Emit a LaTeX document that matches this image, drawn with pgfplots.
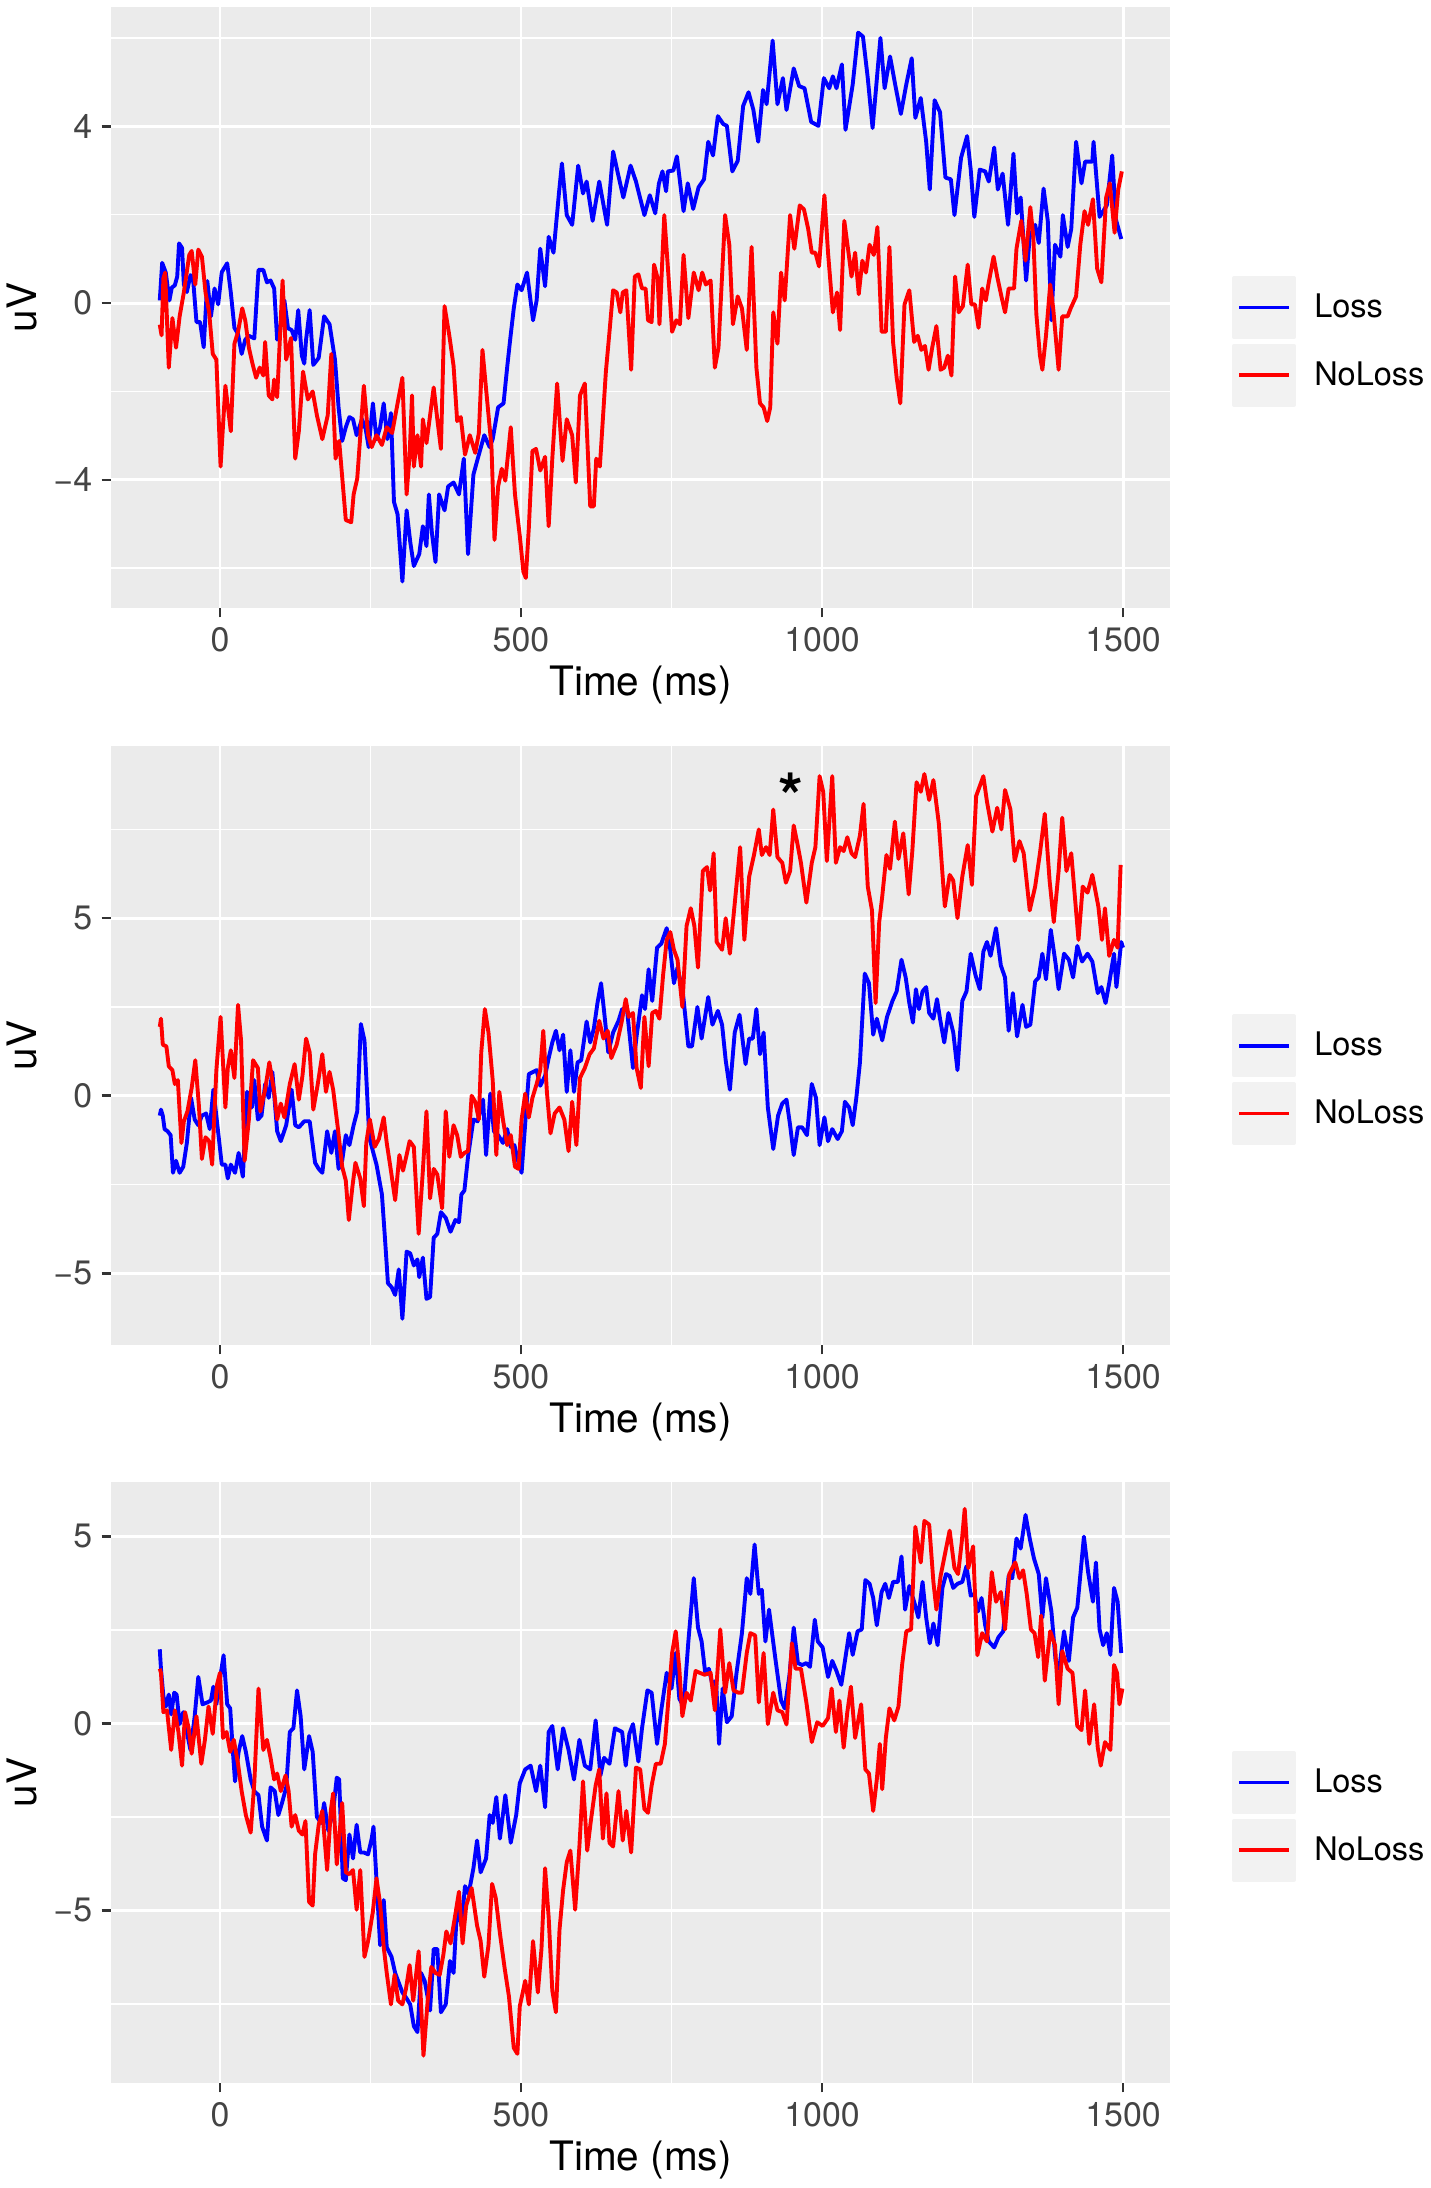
\documentclass[border=0pt]{standalone}
\usepackage{fontspec}
\setmainfont{TeX Gyre Heros}
\usepackage{pgfplots}
\pgfplotsset{compat=1.18}
\definecolor{panelbg}{HTML}{EBEBEB}
\definecolor{keybg}{HTML}{F2F2F2}
\definecolor{ticklab}{HTML}{444444}
\definecolor{tickcol}{HTML}{333333}
\definecolor{lossblue}{HTML}{0000FF}
\definecolor{nolossred}{HTML}{FF0000}
\pgfplotsset{
  ggline/.style={line width=1.4pt, line join=round},
  gg/.style={
    scale only axis, width=381.24pt,
    xmin=-181, xmax=1578,
    xtick={0,500,1000,1500}, xticklabels={0,500,1000,1500},
    minor xtick={250,750,1250},
    axis background/.style={fill=panelbg},
    axis line style={draw=none},
    grid=both,
    major grid style={white, line width=1.05pt},
    minor grid style={white, line width=0.55pt},
    tick align=outside, tick pos=left,
    major tick length=3.4pt, minor tick length=0pt,
    major tick style={tickcol, line width=0.9pt},
    ticklabel style={font=\fontsize{12.2}{12.2}\selectfont, text=ticklab},
    xticklabel style={anchor=center, inner sep=0pt, yshift=-7.9pt},
    yticklabel style={anchor=east, inner sep=0pt, xshift=-3.2pt},
    xlabel={Time (ms)}, ylabel={uV},
    every axis x label/.style={at={(axis description cs:0.5,-0.128)}, anchor=center,
      font=\fontsize{14.6}{14.6}\selectfont},
    every axis y label/.style={at={(axis description cs:-0.084,0.5)}, anchor=center, rotate=90,
      font=\fontsize{14.6}{14.6}\selectfont},
    legend style={at={(axis description cs:1.0586,0.552)}, anchor=north west,
      draw=none, fill=none, inner sep=0pt, outer sep=0pt, row sep=1.7pt,
      font=\fontsize{11.7}{11.7}\selectfont,
      nodes={inner sep=0pt, outer sep=0pt},
      /tikz/every odd column/.append style={column sep=6.6pt}},
    legend cell align=left,
    legend image code/.code={
      \fill[keybg] (0pt,-10.62pt) rectangle (21.6pt,10.62pt);
      \draw[##1, line width=1.3pt] (1.8pt,0pt) -- (19.8pt,0pt);
    },
  }
}
\begin{document}
\begin{tikzpicture}
\useasboundingbox (0,0) rectangle (514.8pt,787.68pt);
% ---------------- Panel 1 ----------------
\begin{axis}[gg, at={(39.96pt,568.8pt)}, anchor=south west, height=216.36pt,
  ymin=-6.90, ymax=6.70, ytick={-4,0,4}, yticklabels={−4,0,4}, minor ytick={-6,-2,2,6}]
\addplot[lossblue, ggline] coordinates {
(-100,0.06)(-96,0.91)(-90,0.69)(-84,0.06)(-80,0.35)(-75,0.4)(-71,0.6)(-68,1.35)(-63,1.25)(-60,0.42)
(-55,0.25)(-49,0.63)(-45,0.6)(-39,-0.43)(-33,-0.43)(-27,-1.0)(-21,0.5)(-15,-0.3)(-9,0.33)(-3,-0.03)
(3,0.7)(12,0.9)(18,0.24)(24,-0.56)(30,-0.7)(36,-1.15)(42,-0.83)(48,-0.74)(57,-0.8)(64,0.75)
(72,0.75)(78,0.47)(84,0.51)(90,0.33)(95,-0.83)(101,-0.48)(107,0.06)(113,-0.57)(119,-0.61)(125,-0.83)
(130,-0.16)(136,-1.19)(140,-1.37)(143,-0.83)(149,-0.16)(155,-1.4)(164,-1.24)(173,-0.3)(182,-0.48)(191,-1.28)
(197,-2.36)(203,-3.12)(209,-2.81)(215,-2.58)(221,-2.63)(227,-2.99)(236,-2.63)(242,-2.85)(247,-3.26)(254,-2.27)
(260,-3.08)(266,-2.81)(272,-2.27)(278,-3.08)(284,-2.49)(289,-4.5)(295,-4.78)(303,-6.3)(310,-4.69)(316,-5.4)
(322,-5.95)(331,-5.68)(337,-5.05)(343,-5.5)(347,-4.33)(352,-5.2)(358,-5.86)(364,-4.33)(373,-4.69)(379,-4.15)
(388,-4.06)(397,-4.33)(405,-3.52)(412,-5.68)(421,-3.88)(430,-3.43)(439,-2.99)(448,-3.26)(453,-3.08)(462,-2.36)
(471,-2.27)(477,-1.46)(482,-0.83)(488,-0.12)(494,0.42)(501,0.29)(510,0.69)(520,-0.39)(526,0.06)(532,1.23)
(540,0.38)(546,1.5)(554,1.14)(563,2.48)(568,3.16)(576,1.99)(585,1.77)(595,3.11)(603,2.48)(609,2.75)
(619,1.86)(630,2.75)(643,1.77)(653,3.43)(661,2.93)(670,2.39)(682,3.11)(691,2.75)(705,1.99)(714,2.44)
(723,2.03)(729,2.70)(735,2.98)(741,2.53)(744,2.98)(753,3.0)(759,3.32)(770,2.08)(777,2.71)(786,2.13)
(795,2.62)(804,2.80)(811,3.65)(819,3.34)(827,4.23)(836,4.05)(842,4.01)(851,2.98)(860,3.22)(869,4.46)
(878,4.77)(886,4.37)(894,3.65)(902,4.82)(908,4.5)(918,5.94)(926,4.50)(935,5.09)(941,4.37)(953,5.31)
(962,4.91)(971,4.86)(982,4.10)(994,4.01)(1003,5.09)(1012,4.86)(1018,5.13)(1024,4.86)(1033,5.40)(1039,3.92)
(1051,4.95)(1060,6.12)(1068,6.03)(1076,5.09)(1084,3.96)(1097,6.0)(1104,4.86)(1113,5.58)(1122,4.91)(1131,4.28)
(1140,4.95)(1149,5.54)(1155,4.19)(1164,4.64)(1173,3.65)(1179,2.57)(1187,4.59)(1196,4.32)(1205,2.84)(1214,2.80)
(1220,1.99)(1231,3.29)(1241,3.78)(1247,3.02)(1253,1.95)(1262,3.02)(1271,2.98)(1277,2.75)(1286,3.52)(1292,2.57)
(1300,2.93)(1309,1.77)(1318,3.38)(1324,2.03)(1330,2.39)(1339,0.51)(1345,1.5)(1354,1.77)(1360,1.36)(1368,2.59)
(1375,1.86)(1381,-0.39)(1387,1.32)(1396,1.05)(1400,1.99)(1408,1.27)(1414,1.68)(1422,3.65)(1431,2.71)(1437,3.2)
(1449,3.2)(1451,3.65)(1461,1.95)(1473,2.21)(1482,3.34)(1488,1.9)(1497,1.45)
};
\addlegendentry{Loss}
\addplot[nolossred, ggline] coordinates {
(-100,-0.49)(-97,-0.73)(-94,0.56)(-91,0.69)(-85,-1.46)(-79,-0.34)(-73,-1.01)(-67,-0.3)(-60,0.24)(-51,1.09)
(-47,1.18)(-41,0.42)(-36,1.21)(-30,1.05)(-24,0.24)(-18,-0.21)(-12,-1.15)(-6,-1.28)(1,-3.7)(9,-1.87)
(18,-2.90)(24,-0.92)(30,-0.65)(37,-0.12)(42,-0.39)(48,-1.01)(54,-1.37)(60,-1.69)(66,-1.46)(72,-1.64)
(75,-0.88)(81,-2.09)(87,-2.18)(90,-1.73)(95,-2.13)(104,0.51)(110,-1.28)(118,-0.79)(125,-3.52)(131,-2.90)
(138,-1.55)(146,-2.18)(154,-2.0)(161,-2.54)(170,-3.08)(179,-2.54)(185,-1.15)(192,-3.52)(198,-3.12)(209,-4.91)
(218,-4.96)(222,-4.33)(228,-3.97)(239,-1.87)(246,-2.99)(252,-3.26)(260,-2.99)(269,-3.21)(277,-2.81)(286,-2.94)
(295,-2.27)(303,-1.69)(310,-4.33)(315,-3.43)(319,-2.09)(322,-3.7)(328,-2.99)(334,-3.70)(337,-2.63)(343,-3.17)
(349,-2.54)(355,-1.91)(361,-2.63)(367,-3.30)(373,-0.07)(381,-0.74)(388,-1.42)(394,-2.67)(400,-2.58)(407,-3.43)
(415,-2.99)(424,-3.39)(430,-2.94)(436,-1.06)(443,-2.09)(451,-3.26)(456,-5.36)(462,-4.15)(468,-3.75)(474,-4.02)
(483,-2.81)(490,-4.33)(498,-5.27)(504,-6.08)(508,-6.22)(513,-5.09)(519,-3.35)(525,-3.30)(532,-3.79)(540,-3.48)
(546,-5.05)(552,-3.52)(560,-1.82)(569,-3.57)(576,-2.63)(585,-2.99)(591,-4.06)(598,-2.09)(606,-1.82)(615,-4.6)
(621,-4.6)(625,-3.52)(631,-3.70)(641,-1.55)(647,-0.65)(653,0.29)(659,0.24)(665,-0.21)(669,0.24)(675,0.29)
(683,-1.51)(689,0.6)(695,0.65)(701,0.33)(707,0.33)(711,-0.39)(717,-0.43)(721,0.87)(727,0.56)(730,-0.48)
(738,1.99)(745,0.6)(751,-0.65)(758,-0.39)(764,-0.48)(770,1.09)(778,-0.34)(787,0.69)(795,0.29)(801,0.69)
(807,0.42)(815,0.51)(822,-1.46)(828,-1.01)(839,1.99)(846,1.32)(852,-0.48)(860,0.15)(867,-0.12)(875,-1.06)
(883,1.27)(891,-1.46)(897,-2.27)(903,-2.36)(909,-2.67)(914,-2.36)(919,-0.21)(926,-0.92)(932,0.69)(938,0.06)
(947,1.99)(954,1.23)(963,2.21)(970,2.12)(977,1.68)(983,1.14)(989,1.14)(995,0.83)(1004,2.44)(1010,1.14)
(1018,-0.21)(1025,0.24)(1030,-0.61)(1037,1.86)(1044,1.14)(1049,0.6)(1055,1.14)(1061,0.2)(1067,0.96)(1073,0.69)
(1079,1.32)(1086,1.09)(1092,1.72)(1099,-0.65)(1106,-0.65)(1112,1.27)(1118,-0.88)(1124,-1.69)(1130,-2.27)(1137,-0.03)
(1145,0.29)(1153,-0.88)(1159,-0.74)(1165,-1.06)(1171,-0.97)(1177,-1.51)(1183,-1.01)(1190,-0.52)(1197,-1.51)(1203,-1.46)
(1209,-1.19)(1215,-1.64)(1221,0.6)(1227,-0.21)(1234,-0.07)(1242,0.87)(1248,-0.03)(1254,-0.03)(1260,-0.56)(1266,0.33)
(1272,0.06)(1277,0.47)(1285,1.05)(1291,0.6)(1298,0.15)(1304,-0.21)(1310,0.33)(1319,0.33)(1323,1.23)(1331,1.86)
(1338,0.96)(1346,2.17)(1351,1.5)(1356,-0.25)(1362,-1.19)(1366,-1.51)(1372,-0.74)(1379,0.42)(1384,-0.12)(1393,-1.51)
(1399,-0.3)(1408,-0.3)(1413,-0.12)(1422,0.15)(1429,1.32)(1436,2.08)(1442,1.77)(1450,2.35)(1457,0.78)(1464,0.47)
(1472,2.39)(1478,2.71)(1486,1.59)(1492,2.57)(1498,2.98)
};
\addlegendentry{NoLoss}
\end{axis}
% ---------------- Panel 2 ----------------
\begin{axis}[gg, at={(39.96pt,303.48pt)}, anchor=south west, height=215.64pt,
  ymin=-7.02, ymax=9.85, ytick={-5,0,5}, yticklabels={−5,0,5}, minor ytick={-2.5,2.5,7.5}]
\addplot[lossblue, ggline] coordinates {
(-100,-0.56)(-98,-0.39)(-95,-0.56)(-92,-0.94)(-87,-1.0)(-82,-1.11)(-78,-2.17)(-73,-1.83)(-67,-2.17)(-61,-2.0)
(-55,-1.33)(-48,-0.06)(-42,-0.67)(-36,-0.83)(-30,-0.56)(-23,-0.5)(-17,-0.94)(-11,0.17)(-5,-0.72)(3,-1.94)
(9,-1.94)(13,-2.33)(18,-1.94)(25,-2.17)(31,-1.61)(38,-2.28)(45,0.11)(53,-0.33)(57,0.44)(63,-0.67)
(69,-0.56)(75,0.33)(81,-0.06)(87,0.67)(95,-1.0)(101,-1.28)(110,-0.83)(119,0.17)(125,-0.83)(131,-0.89)
(140,-0.72)(149,-0.72)(158,-1.89)(164,-2.06)(170,-2.17)(178,-1.0)(185,-1.61)(191,-1.0)(197,-2.06)(203,-1.83)
(209,-1.11)(215,-1.39)(222,-0.83)(228,-0.44)(234,2.02)(240,1.56)(248,-1.17)(254,-1.56)(260,-1.94)(269,-2.78)
(274,-4.0)(279,-5.28)(285,-5.39)(291,-5.61)(297,-4.89)(303,-6.28)(310,-4.39)(316,-4.44)(322,-4.78)(328,-4.61)
(331,-5.11)(337,-4.56)(343,-5.72)(349,-5.67)(355,-4.0)(361,-3.89)(367,-3.28)(375,-3.44)(383,-3.83)(391,-3.5)
(397,-3.56)(401,-2.78)(406,-2.67)(412,-1.72)(421,-0.67)(428,-0.72)(437,-0.11)(442,-1.67)(449,0.06)(455,-1.0)
(462,-1.11)(470,-1.33)(477,-0.94)(483,-1.44)(489,-1.39)(495,-1.83)(501,-2.17)(507,-0.78)(513,0.61)(520,0.67)
(526,0.72)(532,0.28)(540,0.56)(546,1.06)(552,1.5)(558,1.83)(564,1.28)(570,1.72)(576,0.11)(582,1.28)
(588,0.11)(594,0.94)(600,1.0)(609,2.09)(615,1.5)(621,1.89)(627,2.61)(633,3.17)(639,2.22)(645,1.22)
(653,1.78)(662,2.11)(668,2.44)(676,2.44)(686,0.78)(692,1.67)(701,2.83)(706,2.44)(712,3.56)(718,2.67)
(726,4.17)(733,4.28)(742,4.72)(748,4.11)(754,3.17)(760,3.61)(769,2.89)(778,1.39)(784,1.39)(793,2.5)
(800,1.61)(811,2.78)(818,2.0)(827,2.39)(834,2.0)(840,1.0)(847,0.17)(855,1.78)(863,2.28)(873,0.89)
(879,1.61)(885,1.61)(891,2.44)(897,1.17)(903,1.78)(910,-0.33)(919,-1.5)(927,-0.56)(934,-0.22)(941,-0.11)
(947,-0.83)(953,-1.67)(960,-0.89)(967,-0.89)(975,-1.11)(983,0.33)(990,-0.06)(996,-1.39)(1004,-0.61)(1010,-1.28)
(1017,-0.94)(1026,-1.22)(1033,-1.0)(1038,-0.17)(1045,-0.33)(1051,-0.83)(1057,-0.06)(1063,0.94)(1071,3.44)(1078,3.17)
(1085,1.72)(1091,2.17)(1100,1.56)(1108,2.22)(1117,2.67)(1124,2.94)(1132,3.83)(1139,3.33)(1145,2.61)(1151,2.06)
(1156,3.0)(1161,2.44)(1167,2.94)(1173,3.06)(1178,2.33)(1185,2.17)(1191,2.72)(1196,2.17)(1203,1.5)(1210,2.33)
(1218,1.78)(1225,0.72)(1233,2.67)(1240,2.94)(1247,4.0)(1255,3.39)(1262,3.0)(1268,4.06)(1274,4.33)(1280,3.94)
(1289,4.72)(1297,3.67)(1304,3.33)(1310,1.83)(1317,2.89)(1324,1.67)(1333,2.56)(1339,1.94)(1346,2.0)(1354,3.22)
(1360,3.33)(1366,4.0)(1372,3.28)(1380,4.67)(1388,3.72)(1393,3.0)(1402,4.0)(1410,3.83)(1417,3.33)(1424,4.22)
(1432,3.78)(1441,4.0)(1449,3.78)(1458,2.89)(1464,3.06)(1471,2.61)(1477,3.17)(1485,4.0)(1489,3.06)(1497,4.33)
(1500,4.17)
};
\addlegendentry{Loss}
\addplot[nolossred, ggline] coordinates {
(-100,1.94)(-98,2.17)(-95,1.44)(-89,1.39)(-85,0.83)(-79,0.72)(-75,0.33)(-70,0.44)(-64,-1.33)(-60,-0.72)
(-54,-0.44)(-47,0.22)(-41,1.0)(-35,-0.28)(-30,-1.78)(-24,-1.17)(-18,-1.28)(-13,-1.94)(-6,0.72)(1,2.22)
(9,-0.33)(13,0.78)(18,1.28)(24,0.5)(30,2.56)(35,1.56)(41,-1.83)(48,-0.67)(55,1.0)(63,0.78)
(67,-0.44)(75,0.17)(82,0.94)(90,0.11)(95,-0.67)(101,-0.22)(107,-0.61)(116,0.33)(124,0.89)(131,-0.11)
(137,0.56)(143,1.61)(149,1.22)(155,-0.39)(162,0.28)(170,1.17)(176,0.11)(182,0.67)(188,0.17)(196,-0.94)
(203,-2.0)(209,-2.39)(214,-3.5)(220,-2.56)(225,-1.89)(233,-2.33)(239,-3.11)(243,-1.33)(249,-0.67)(257,-1.44)
(264,-1.22)(272,-0.61)(277,-1.33)(283,-2.0)(291,-2.94)(298,-1.67)(304,-2.11)(310,-1.67)(315,-1.28)(322,-1.44)
(330,-3.89)(337,-2.11)(343,-0.44)(349,-2.89)(355,-2.06)(361,-2.22)(369,-3.17)(375,-0.44)(381,-1.72)(388,-0.83)
(394,-1.11)(400,-1.72)(406,-1.61)(412,-1.56)(418,0.0)(424,-0.17)(430,-0.67)(434,1.22)(440,2.44)(446,1.78)
(453,0.44)(459,-1.67)(464,0.11)(470,-0.67)(477,-1.39)(483,-1.11)(490,-2.0)(496,-2.06)(501,-0.67)(507,0.06)
(513,-0.61)(519,-0.06)(526,0.33)(532,0.72)(537,1.83)(543,0.11)(549,-1.06)(556,-0.5)(564,-0.33)(572,-0.67)
(579,-1.56)(585,-0.17)(592,-1.39)(598,0.5)(606,0.78)(614,1.17)(621,1.33)(630,2.11)(637,1.61)(644,1.83)
(650,1.06)(659,1.44)(667,2.06)(674,2.72)(679,2.22)(686,2.33)(692,0.78)(699,0.22)(705,2.22)(712,0.83)
(718,2.33)(724,2.39)(730,2.17)(736,3.39)(742,4.39)(748,4.61)(754,4.11)(760,3.83)(768,2.5)(775,4.78)
(782,5.28)(788,4.78)(794,3.61)(802,6.33)(809,6.44)(814,5.78)(820,6.83)(825,4.33)(834,4.11)(840,5.0)
(847,4.0)(853,5.06)(864,7.0)(871,4.39)(879,6.17)(887,6.78)(895,7.5)(900,6.78)(907,7.0)(913,6.78)
(919,8.06)(926,6.72)(934,6.56)(940,6.0)(947,6.33)(953,7.61)(959,7.11)(965,6.56)(974,5.44)(983,6.56)
(989,7.0)(996,9.0)(1002,8.56)(1008,6.61)(1017,9.0)(1023,6.56)(1030,7.0)(1036,6.89)(1042,7.28)(1049,6.83)
(1055,6.72)(1063,7.33)(1069,8.22)(1076,5.89)(1083,5.22)(1089,2.61)(1095,4.89)(1100,5.61)(1107,6.78)(1113,6.39)
(1121,7.72)(1127,6.67)(1135,7.39)(1144,5.67)(1150,6.89)(1157,8.83)(1164,8.56)(1170,9.06)(1178,8.33)(1185,8.89)
(1194,7.67)(1204,5.33)(1212,6.22)(1218,6.06)(1225,5.0)(1233,6.17)(1242,7.06)(1249,5.94)(1256,8.44)(1268,9.0)
(1274,8.28)(1283,7.44)(1291,8.11)(1298,7.5)(1304,8.61)(1313,8.06)(1320,6.61)(1328,7.17)(1335,6.83)(1345,5.22)
(1354,5.89)(1362,6.83)(1370,7.94)(1378,6.06)(1385,4.89)(1393,6.33)(1399,7.83)(1406,6.33)(1414,6.83)(1426,4.39)
(1433,5.89)(1441,5.72)(1449,6.22)(1459,5.33)(1465,4.39)(1470,5.28)(1477,3.94)(1485,4.39)(1491,4.17)(1496,6.5)
};
\addlegendentry{NoLoss}
\node[anchor=base, inner sep=0pt, font=\bfseries\fontsize{23}{23}\selectfont] at (axis cs:949,7.77) {*};
\end{axis}
% ---------------- Panel 3 ----------------
\begin{axis}[gg, at={(39.96pt,37.8pt)}, anchor=south west, height=216.36pt,
  ymin=-9.61, ymax=6.45, ytick={-5,0,5}, yticklabels={−5,0,5}, minor ytick={-7.5,-2.5,2.5}]
\addplot[lossblue, ggline] coordinates {
(-100,1.98)(-98,1.46)(-94,0.72)(-90,0.45)(-85,0.77)(-81,0.24)(-76,0.82)(-72,0.77)(-67,-0.02)(-61,0.3)
(-55,-0.23)(-49,-0.71)(-42,0.19)(-36,1.24)(-29,0.51)(-21,0.56)(-15,0.61)(-11,0.98)(-6,0.51)(0,1.19)
(6,1.82)(12,0.51)(17,0.40)(21,-0.65)(25,-1.55)(31,-0.76)(37,-0.34)(43,-0.76)(51,-1.5)(57,-1.81)
(64,-1.92)(70,-2.76)(78,-3.13)(84,-1.71)(91,-1.81)(97,-2.45)(103,-2.13)(110,-1.71)(116,-0.23)(122,-0.13)
(128,0.88)(134,0.19)(140,-1.23)(148,-0.34)(154,-0.76)(161,-2.5)(168,-2.66)(173,-2.13)(180,-2.87)(188,-2.34)
(194,-1.45)(198,-1.5)(204,-4.14)(209,-4.19)(215,-2.97)(221,-3.61)(227,-2.71)(233,-3.45)(239,-3.45)(246,-3.5)
(252,-3.08)(255,-2.76)(260,-4.19)(266,-5.93)(272,-4.72)(277,-5.98)(285,-6.24)(291,-6.67)(297,-6.93)(303,-7.19)
(310,-7.35)(316,-7.51)(322,-8.09)(328,-8.25)(334,-6.67)(340,-6.88)(349,-7.67)(355,-6.03)(361,-6.03)(367,-7.72)
(375,-7.51)(382,-6.35)(388,-6.67)(394,-4.87)(401,-5.4)(407,-4.35)(413,-4.56)(421,-3.87)(427,-3.13)(433,-3.98)
(442,-3.61)(448,-2.45)(453,-2.66)(459,-1.97)(465,-3.08)(474,-1.92)(483,-3.19)(492,-2.45)(498,-1.6)(507,-1.23)
(516,-1.13)(525,-1.81)(532,-1.13)(540,-2.24)(546,-0.23)(552,-0.07)(561,-1.23)(570,-0.13)(579,-0.71)(588,-1.5)
(597,-0.44)(606,-1.13)(615,-1.23)(624,0.08)(632,-1.39)(638,-0.92)(647,-1.08)(656,-0.13)(668,-0.23)(674,-1.13)
(680,-0.28)(686,-0.02)(695,-1.02)(701,-0.13)(710,0.88)(717,0.82)(726,-0.55)(733,0.35)(742,1.35)(750,0.93)
(757,1.88)(763,0.66)(770,0.45)(778,2.19)(787,3.88)(794,2.56)(800,2.19)(806,1.35)(812,1.46)(818,1.03)
(824,1.14)(829,-0.55)(835,0.93)(842,0.03)(850,0.19)(858,1.35)(867,2.41)(875,3.88)(881,3.46)(888,4.78)
(895,3.46)(900,3.57)(906,2.19)(912,3.04)(917,2.41)(923,1.67)(932,0.61)(938,0.4)(946,1.3)(953,2.56)
(960,1.61)(967,1.56)(974,1.61)(980,1.51)(988,2.77)(993,2.19)(1001,2.03)(1010,1.24)(1017,1.67)(1024,1.40)
(1032,1.03)(1039,1.77)(1045,2.41)(1051,1.83)(1059,2.46)(1066,2.51)(1072,3.83)(1079,3.73)(1085,3.35)(1091,2.62)
(1099,3.51)(1105,3.73)(1111,3.35)(1118,3.78)(1126,3.78)(1132,4.46)(1138,3.04)(1145,3.67)(1153,3.25)(1160,2.83)
(1167,3.78)(1173,2.83)(1179,2.14)(1185,2.67)(1192,2.09)(1200,3.62)(1206,3.99)(1212,3.94)(1218,3.62)(1225,3.73)
(1233,3.78)(1240,4.2)(1247,3.41)(1253,3.46)(1259,2.99)(1265,3.35)(1271,2.62)(1277,2.19)(1286,2.03)(1293,2.30)
(1301,2.46)(1310,3.94)(1316,3.88)(1323,4.94)(1330,4.67)(1338,5.57)(1345,4.94)(1352,4.41)(1360,3.99)(1366,2.83)
(1372,3.88)(1381,2.99)(1388,1.67)(1394,1.46)(1402,2.46)(1410,1.67)(1417,2.83)(1424,3.09)(1435,4.99)(1442,4.04)
(1450,3.25)(1455,4.30)(1461,2.51)(1467,2.09)(1473,2.41)(1479,1.83)(1485,3.62)(1491,3.25)(1497,1.88)
};
\addlegendentry{Loss}
\addplot[nolossred, ggline] coordinates {
(-100,1.46)(-98,1.35)(-94,0.30)(-88,0.35)(-81,-0.71)(-75,0.35)(-69,-0.23)(-63,-1.13)(-58,0.3)(-52,-0.13)
(-47,-0.81)(-39,0.19)(-31,-1.08)(-25,-0.44)(-19,0.45)(-12,-0.28)(-5,1.03)(0,1.35)(5,-0.39)(11,-0.23)
(17,-0.76)(23,-0.44)(30,-1.08)(36,-1.81)(43,-2.45)(51,-2.92)(57,-1.6)(64,0.93)(72,-0.71)(78,-0.44)
(84,-0.92)(90,-1.5)(95,-1.34)(101,-1.81)(109,-1.39)(114,-1.81)(119,-2.76)(125,-2.45)(131,-2.87)(137,-2.97)
(142,-2.61)(148,-4.77)(154,-4.87)(158,-3.5)(164,-2.71)(170,-2.34)(178,-3.92)(184,-2.34)(188,-1.87)(194,-3.77)
(203,-2.13)(209,-3.98)(215,-4.03)(221,-3.92)(227,-4.98)(233,-3.92)(240,-6.24)(246,-5.82)(254,-5.03)(260,-4.14)
(266,-4.82)(272,-5.98)(277,-6.67)(284,-7.51)(290,-6.72)(296,-7.41)(303,-7.51)(309,-7.09)(315,-6.46)(321,-7.41)
(330,-6.09)(338,-8.88)(345,-7.41)(351,-6.51)(358,-6.67)(365,-6.72)(371,-6.19)(376,-5.56)(383,-5.88)(389,-5.30)
(397,-4.5)(403,-5.88)(409,-4.87)(418,-4.40)(427,-5.40)(433,-5.82)(439,-6.77)(446,-5.93)(452,-4.29)(458,-4.66)
(465,-5.61)(473,-6.56)(480,-7.30)(488,-8.67)(494,-8.83)(498,-7.56)(507,-6.88)(513,-7.51)(520,-5.82)(528,-7.19)
(534,-6.03)(540,-3.87)(546,-5.19)(552,-7.14)(558,-7.72)(564,-5.51)(570,-4.45)(576,-3.71)(582,-3.40)(590,-4.98)
(597,-3.29)(603,-1.55)(610,-3.40)(616,-2.61)(624,-1.66)(630,-1.23)(636,-3.08)(642,-1.87)(647,-3.19)(653,-3.29)
(662,-1.81)(669,-3.13)(675,-2.34)(683,-3.45)(691,-1.18)(698,-1.23)(705,-2.29)(711,-2.39)(717,-1.66)(724,-1.08)
(732,-1.08)(739,-0.55)(745,0.66)(751,1.88)(757,2.46)(763,1.46)(768,0.19)(775,0.82)(782,0.61)(790,1.40)
(797,1.35)(805,1.30)(815,1.35)(822,0.35)(831,2.51)(839,0.82)(846,1.61)(853,0.88)(861,0.82)(867,0.82)
(875,1.88)(881,2.41)(889,2.35)(895,0.56)(903,1.88)(910,-0.02)(919,0.82)(926,0.35)(934,0.30)(941,-0.03)
(950,2.14)(956,1.46)(965,1.46)(974,0.56)(983,-0.50)(992,0.03)(1001,-0.07)(1010,0.14)(1016,0.93)(1023,-0.23)
(1029,0.61)(1036,-0.65)(1042,0.30)(1048,0.98)(1055,-0.39)(1065,0.51)(1072,-1.23)(1078,-1.34)(1085,-2.34)(1091,-1.50)
(1096,-0.55)(1100,-1.76)(1106,-0.39)(1112,0.40)(1120,0.08)(1127,0.45)(1133,1.56)(1140,2.46)(1148,2.51)(1155,5.25)
(1164,4.30)(1170,5.41)(1178,5.31)(1185,3.78)(1190,3.04)(1197,3.94)(1206,4.67)(1212,5.15)(1220,4.15)(1226,3.99)
(1232,4.83)(1237,5.73)(1243,4.15)(1251,4.73)(1258,1.82)(1266,2.41)(1274,2.19)(1282,4.04)(1289,3.25)(1297,3.51)
(1304,2.51)(1311,3.99)(1321,4.30)(1328,3.88)(1334,4.09)(1340,3.46)(1347,2.51)(1353,2.41)(1359,1.77)(1364,2.88)
(1370,1.14)(1379,2.46)(1387,2.09)(1393,0.51)(1399,1.93)(1408,1.46)(1416,1.35)(1424,-0.07)(1431,-0.18)(1437,0.88)
(1444,-0.55)(1452,0.51)(1458,-0.65)(1463,-1.13)(1470,-0.50)(1479,-0.71)(1485,1.56)(1490,1.35)(1494,0.51)(1499,0.93)
};
\addlegendentry{NoLoss}
\end{axis}
\end{tikzpicture}
\end{document}
